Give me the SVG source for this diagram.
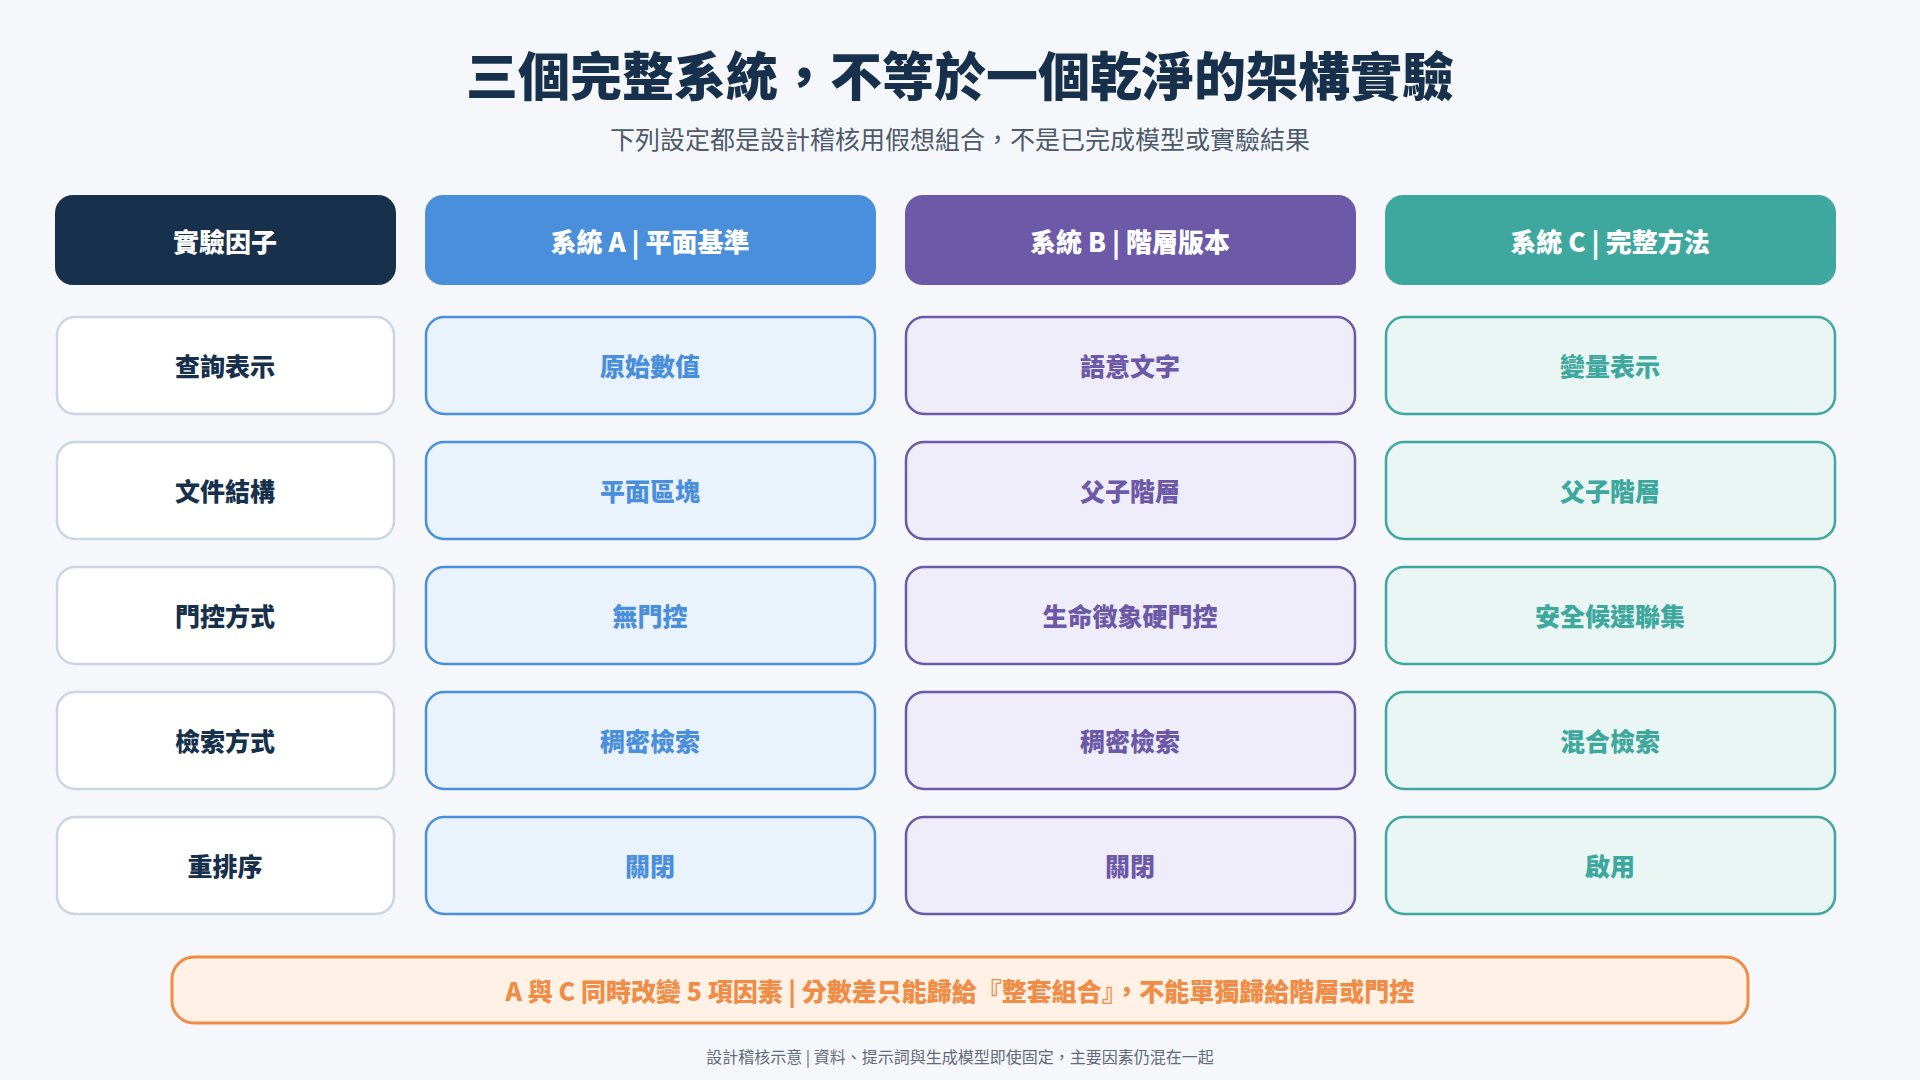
<svg xmlns="http://www.w3.org/2000/svg" width="1920" height="1080" viewBox="0 0 1920 1080">
<style>
text{font-family:"Noto Sans CJK TC","Noto Sans CJK SC",sans-serif;text-anchor:middle;dominant-baseline:central}
.h{font-size:26px;font-weight:900;fill:#fff}
.c{font-size:25px;font-weight:900}
.f rect{fill:#fff;stroke:#cbd5e3;stroke-width:2.5}
.f text{fill:#17304b}
.a rect{fill:#eaf2fb;stroke:#4a8fdb;stroke-width:2.5}
.a text{fill:#4a8fdb}
.b rect{fill:#efedf9;stroke:#6c59a8;stroke-width:2.5}
.b text{fill:#6c59a8}
.k rect{fill:#e9f6f3;stroke:#3ea89f;stroke-width:2.5}
.k text{fill:#3ea89f}
</style>
<rect width="1920" height="1080" fill="#f5f7fb"/>
<text x="960" y="73" font-size="52" font-weight="900" fill="#17304b">三個完整系統，不等於一個乾淨的架構實驗</text>
<text x="960" y="138" font-size="25" fill="#4d5a6b">下列設定都是設計稽核用假想組合，不是已完成模型或實驗結果</text>
<g id="headers">
<g id="h0"><rect x="55" y="195" width="341" height="90" rx="18" fill="#17304b"/><text class="h" x="225" y="240">實驗因子</text></g>
<g id="h1"><rect x="425" y="195" width="451" height="90" rx="18" fill="#4a8fdb"/><text class="h" x="650" y="240">系統 A | 平面基準</text></g>
<g id="h2"><rect x="905" y="195" width="451" height="90" rx="18" fill="#6c59a8"/><text class="h" x="1130" y="240">系統 B | 階層版本</text></g>
<g id="h3"><rect x="1385" y="195" width="451" height="90" rx="18" fill="#3ea89f"/><text class="h" x="1610" y="240">系統 C | 完整方法</text></g>
</g>
<g id="rows">
<g id="r1">
<g class="f"><rect x="57" y="317" width="337" height="97" rx="18"/><text class="c" x="225" y="365">查詢表示</text></g>
<g class="a"><rect x="426" y="317" width="449" height="97" rx="18"/><text class="c" x="650" y="365">原始數值</text></g>
<g class="b"><rect x="906" y="317" width="449" height="97" rx="18"/><text class="c" x="1130" y="365">語意文字</text></g>
<g class="k"><rect x="1386" y="317" width="449" height="97" rx="18"/><text class="c" x="1610" y="365">變量表示</text></g>
</g>
<g id="r2">
<g class="f"><rect x="57" y="442" width="337" height="97" rx="18"/><text class="c" x="225" y="490">文件結構</text></g>
<g class="a"><rect x="426" y="442" width="449" height="97" rx="18"/><text class="c" x="650" y="490">平面區塊</text></g>
<g class="b"><rect x="906" y="442" width="449" height="97" rx="18"/><text class="c" x="1130" y="490">父子階層</text></g>
<g class="k"><rect x="1386" y="442" width="449" height="97" rx="18"/><text class="c" x="1610" y="490">父子階層</text></g>
</g>
<g id="r3">
<g class="f"><rect x="57" y="567" width="337" height="97" rx="18"/><text class="c" x="225" y="615">門控方式</text></g>
<g class="a"><rect x="426" y="567" width="449" height="97" rx="18"/><text class="c" x="650" y="615">無門控</text></g>
<g class="b"><rect x="906" y="567" width="449" height="97" rx="18"/><text class="c" x="1130" y="615">生命徵象硬門控</text></g>
<g class="k"><rect x="1386" y="567" width="449" height="97" rx="18"/><text class="c" x="1610" y="615">安全候選聯集</text></g>
</g>
<g id="r4">
<g class="f"><rect x="57" y="692" width="337" height="97" rx="18"/><text class="c" x="225" y="740">檢索方式</text></g>
<g class="a"><rect x="426" y="692" width="449" height="97" rx="18"/><text class="c" x="650" y="740">稠密檢索</text></g>
<g class="b"><rect x="906" y="692" width="449" height="97" rx="18"/><text class="c" x="1130" y="740">稠密檢索</text></g>
<g class="k"><rect x="1386" y="692" width="449" height="97" rx="18"/><text class="c" x="1610" y="740">混合檢索</text></g>
</g>
<g id="r5">
<g class="f"><rect x="57" y="817" width="337" height="97" rx="18"/><text class="c" x="225" y="865">重排序</text></g>
<g class="a"><rect x="426" y="817" width="449" height="97" rx="18"/><text class="c" x="650" y="865">關閉</text></g>
<g class="b"><rect x="906" y="817" width="449" height="97" rx="18"/><text class="c" x="1130" y="865">關閉</text></g>
<g class="k"><rect x="1386" y="817" width="449" height="97" rx="18"/><text class="c" x="1610" y="865">啟用</text></g>
</g>
</g>
<g id="note"><rect x="172" y="957" width="1576" height="66" rx="22" fill="#fff1e5" stroke="#f08c45" stroke-width="3"/><text x="960" y="990" font-size="25" font-weight="900" fill="#f08c45">A 與 C 同時改變 5 項因素 | 分數差只能歸給『整套組合』，不能單獨歸給階層或門控</text></g>
<text x="960" y="1056" font-size="16" fill="#5f6b7a">設計稽核示意 | 資料、提示詞與生成模型即使固定，主要因素仍混在一起</text>
</svg>
